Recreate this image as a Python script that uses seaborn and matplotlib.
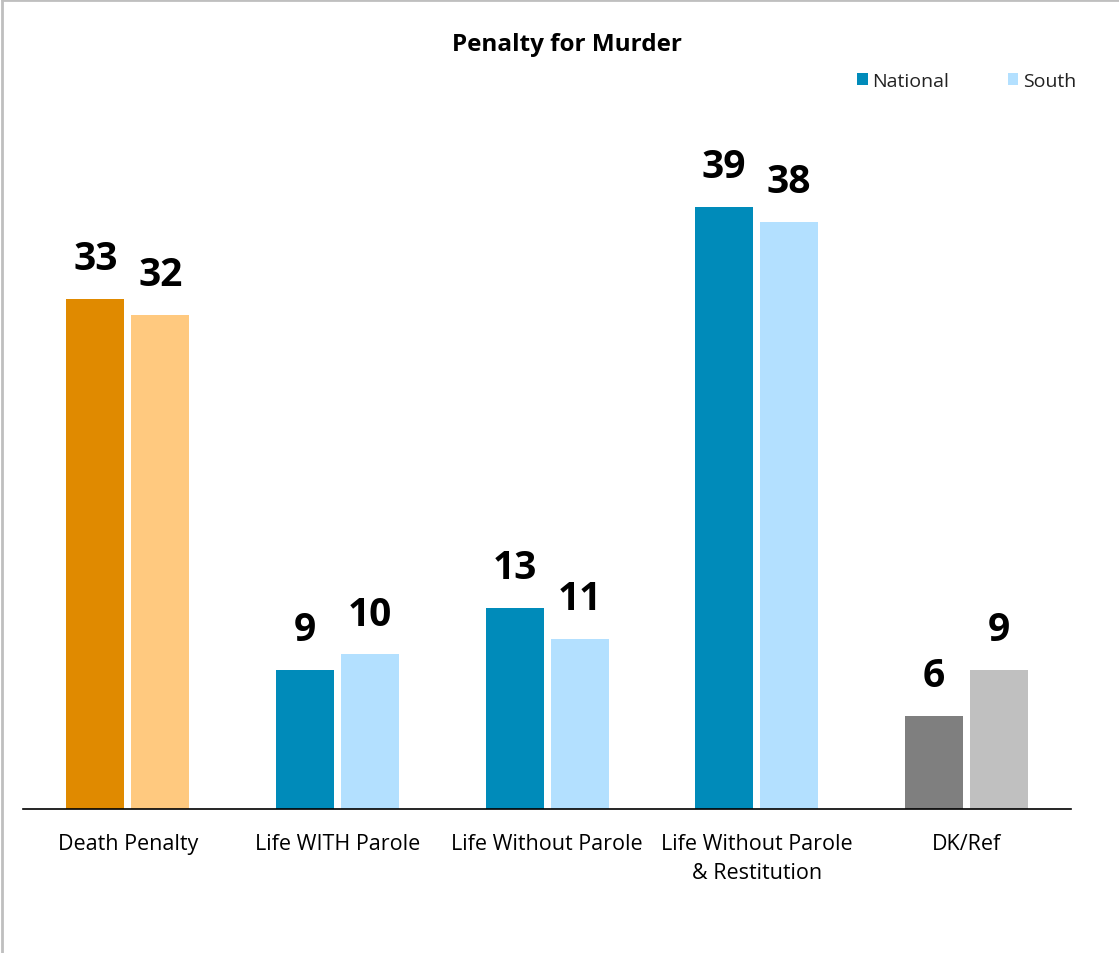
import matplotlib
matplotlib.use("Agg")
import matplotlib.pyplot as plt
from matplotlib.lines import Line2D
from matplotlib.patches import Patch
import seaborn as sns
import pandas as pd

categories = ["Death Penalty", "Life WITH Parole", "Life Without Parole",
              "Life Without Parole\n& Restitution", "DK/Ref"]
national = [33, 9, 13, 39, 6]
south = [32, 10, 11, 38, 9]
series = ["National", "South"]

# colour pair (National, South) for each category
dark_colors = ["#E08A00", "#008BBA", "#008BBA", "#008BBA", "#7F7F7F"]
light_colors = ["#FFC97F", "#B3E0FF", "#B3E0FF", "#B3E0FF", "#C0C0C0"]

df = pd.DataFrame({
    "category": categories * 2,
    "series": [series[0]] * len(categories) + [series[1]] * len(categories),
    "value": national + south,
})

sns.set_theme(style="white")
plt.rcParams["font.family"] = ["Open Sans", "DejaVu Sans"]

fig = plt.figure(figsize=(11.19, 9.54), dpi=100)
ax = fig.add_axes([0.0206, 0.151, 0.9366, 0.744])

sns.barplot(data=df, x="category", y="value", hue="series", order=categories,
            hue_order=series, palette=["#008BBA", "#B3E0FF"], width=0.62,
            gap=0.108, ax=ax, legend=False, saturation=1)

bars = ax.patches[: 2 * len(categories)]
for i, bar in enumerate(bars):
    s, c = divmod(i, len(categories))
    bar.set_facecolor(dark_colors[c] if s == 0 else light_colors[c])
    bar.set_edgecolor("none")
    val = national[c] if s == 0 else south[c]
    ax.annotate(f"{val}", (bar.get_x() + bar.get_width() / 2, bar.get_height()),
                xytext=(0, 15), textcoords="offset points", ha="center", va="bottom",
                fontsize=28, fontweight="bold", color="black")

ax.set_xlim(-0.5, 4.5)
ax.set_ylim(0, 45.95)
ax.set_xlabel("")
ax.set_ylabel("")
ax.set_yticks([])
for side in ["top", "right", "left"]:
    ax.spines[side].set_visible(False)
ax.spines["bottom"].set_color("#000000")
ax.spines["bottom"].set_linewidth(1.2)
ax.tick_params(axis="x", length=0, pad=17, labelsize=15.5, labelcolor="black")
for lbl in ax.get_xticklabels():
    lbl.set_linespacing(1.5)

fig.text(567 / 1119, 1 - 45 / 954, "Penalty for Murder", ha="center", va="center",
         fontsize=17.5, fontweight="bold", color="black")

handles = [Patch(facecolor="#008BBA", edgecolor="none"),
           Patch(facecolor="#B3E0FF", edgecolor="none")]
fig.legend(handles, series, ncol=2, frameon=False, loc="center right",
           bbox_to_anchor=(1094 / 1119, 1 - 82 / 954), fontsize=14,
           handlelength=0.55, handleheight=0.55, handletextpad=0.25,
           columnspacing=3.0, labelcolor="#222222")

# frame lines along the top and left edges
fig.add_artist(Line2D([0.002, 0.002], [0, 0.999], transform=fig.transFigure,
                      color="#BFBFBF", linewidth=2))
fig.add_artist(Line2D([0.002, 1.0], [0.999, 0.999], transform=fig.transFigure,
                      color="#BFBFBF", linewidth=2))

fig.savefig("out.png", dpi=100, facecolor="white")
